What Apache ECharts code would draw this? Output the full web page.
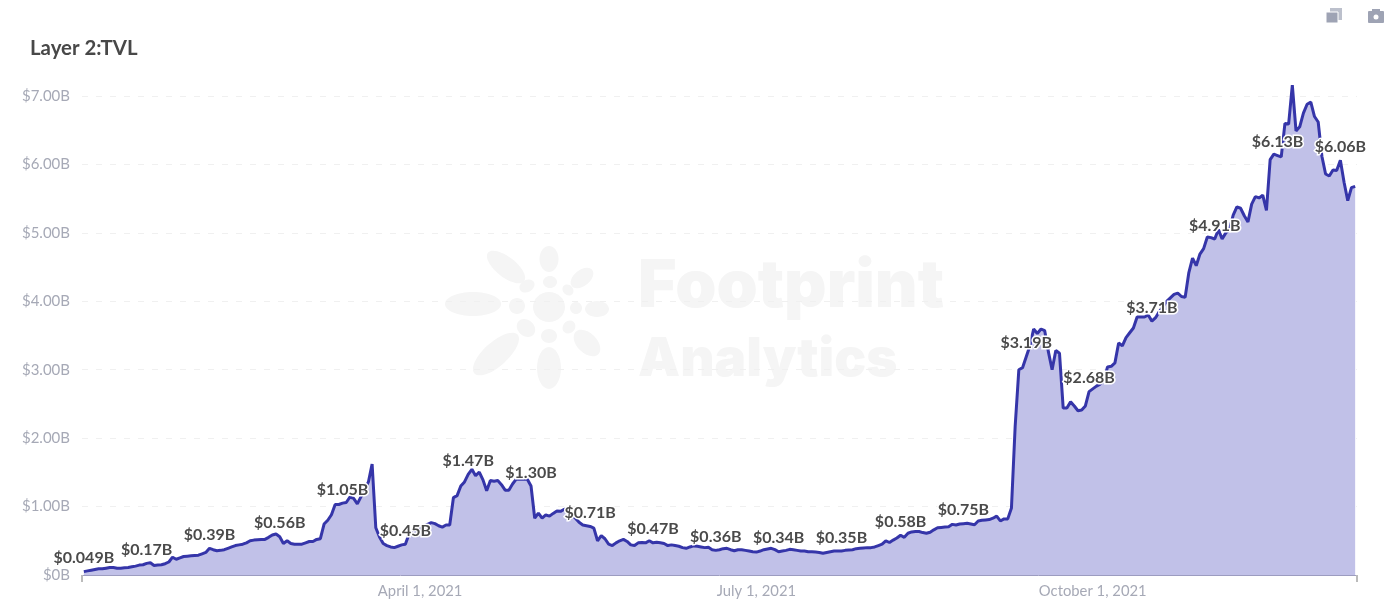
<!DOCTYPE html>
<html><head><meta charset="utf-8">
<script src="https://cdn.jsdelivr.net/npm/echarts@6/dist/echarts.min.js"></script>
<style>html,body{margin:0;padding:0;background:#fff}#c{width:1387px;height:604px}</style></head>
<body><div id="c"></div>
<script>
const tvl = [
.049,.06,.07,.08,.09,.09,.10,.11,.11,.10,
.10,.105,.11,.12,.13,.145,.15,.17,.18,.14,
.145,.15,.165,.19,.26,.23,.25,.27,.275,.28,
.285,.29,.31,.33,.39,.37,.355,.36,.37,.39,
.41,.43,.44,.45,.47,.50,.51,.515,.52,.52,
.55,.585,.60,.56,.46,.50,.46,.45,.45,.45,
.47,.49,.49,.52,.53,.745,.80,.88,1.03,1.03,
1.05,1.06,1.14,1.12,1.04,1.145,1.25,1.36,1.62,.69,
.555,.46,.43,.41,.40,.42,.44,.45,.60,.65,
.66,.68,.71,.74,.765,.75,.72,.70,.73,.73,
1.13,1.16,1.30,1.36,1.47,1.545,1.45,1.505,1.39,1.23,
1.38,1.37,1.38,1.32,1.24,1.24,1.33,1.40,1.40,1.40,
1.40,1.30,.83,.905,.83,.877,.86,.90,.935,.93,
.96,.96,.88,.83,.77,.73,.72,.71,.685,.50,
.575,.53,.45,.43,.47,.50,.52,.49,.44,.43,
.47,.475,.47,.50,.47,.48,.47,.46,.43,.44,
.43,.42,.40,.39,.41,.425,.42,.41,.40,.405,
.37,.36,.37,.385,.39,.37,.355,.37,.37,.36,
.35,.34,.335,.35,.37,.38,.39,.37,.34,.35,
.36,.375,.37,.36,.35,.35,.34,.34,.335,.33,
.317,.33,.34,.35,.35,.35,.36,.365,.37,.385,
.39,.395,.40,.40,.41,.43,.45,.50,.475,.51,
.54,.58,.55,.61,.63,.635,.635,.62,.61,.625,
.66,.69,.695,.70,.705,.74,.73,.745,.75,.755,
.745,.735,.79,.80,.805,.81,.83,.86,.79,.82,
.82,.98,2.17,3.0,3.03,3.19,3.35,3.595,3.53,3.595,
3.57,3.26,3.0,3.28,3.24,2.44,2.44,2.53,2.47,2.40,
2.41,2.47,2.68,2.72,2.76,2.79,2.85,3.04,3.05,3.10,
3.39,3.35,3.47,3.54,3.61,3.77,3.77,3.77,3.80,3.71,
3.76,3.85,3.92,4.00,4.05,4.10,4.12,4.07,4.06,4.42,
4.63,4.52,4.69,4.77,4.94,4.93,4.91,5.05,4.91,5.00,
5.05,5.26,5.38,5.36,5.25,5.16,5.42,5.53,5.51,5.55,
5.33,6.07,6.15,6.13,6.11,6.60,6.59,7.16,6.49,6.55,
6.75,6.88,6.91,6.70,6.62,6.12,5.86,5.83,5.92,5.91,
6.06,5.74,5.47,5.66,5.68
];
const labelIndexes = [0,17,34,53,70,87,104,121,137,154,171,188,205,221,238,255,272,289,306,323,340];
const tickIndexes = [91,182,273];
const tickLabels = ['April 1, 2021','July 1, 2021','October 1, 2021'];
const yTicks = ['$0B','$1.00B','$2.00B','$3.00B','$4.00B','$5.00B','$6.00B','$7.00B'];
const categories = tvl.map((_, i) => { const k = tickIndexes.indexOf(i); return k >= 0 ? tickLabels[k] : String(i); });
const fmt = v => v < 0.1 ? '$' + v.toFixed(3) + 'B' : '$' + v.toFixed(2) + 'B';
const points = tvl.map((v, i) => labelIndexes.includes(i)
  ? {value: v, symbol: 'circle', symbolSize: 1, itemStyle: {color: 'rgba(0,0,0,0)'},
     label: {show: true, position: 'top', distance: 5, opacity: 1, formatter: fmt(v)}}
  : v);

const wm = '#f5f5f5';
const blob = (cx, cy, rx, ry, rot) => ({type: 'ellipse', silent: true, z: -1,
  x: cx, y: cy, rotation: (rot || 0) * Math.PI / 180, shape: {cx: 0, cy: 0, rx, ry}, style: {fill: wm}});
const logo = [
  [549,307,16,15],[549,259,9.5,13],[506,267,23,10,-38],[473,304,28,12],[496,354,29,12,42],
  [549,368,12,21],[587,343,16,10,-45],[597,309,12,8],[582,278,13,8,38],
  [527,286,8,6,30],[550,282,7,6],[568,290,6,5,-45],[576,308,6,6],[569,327,7,6,50],
  [549,336,8,7],[526,328,10,8,-40],[517,306,8,8]
].map(a => blob(...a));

const chart = echarts.init(document.getElementById('c'), null, {renderer: 'canvas'});
chart.setOption({
  animation: false,
  backgroundColor: '#fff',
  textStyle: {fontFamily: 'Lato'},
  title: {text: 'Layer 2:TVL', left: 25, top: 33,
    textStyle: {fontFamily: 'Lato', fontSize: 20.4, fontWeight: 700, color: '#484848'}},
  grid: {left: 82, right: 30, top: 96, bottom: 29},
  xAxis: {type: 'category', data: categories, boundaryGap: true,
    axisLine: {lineStyle: {color: '#9c9cc0', width: 1}},
    axisTick: {show: true, length: 7, lineStyle: {color: '#bbb', width: 2},
      interval: i => i === 0},
    axisLabel: {color: '#a6a9b6', fontSize: 14.8, margin: 9,
      interval: i => tickIndexes.includes(i)},
    splitLine: {show: false}},
  yAxis: {type: 'value', min: 0, max: 7, interval: 1,
    axisLine: {show: false}, axisTick: {show: false},
    axisLabel: {color: '#a6a9b6', fontSize: 15, margin: 12, formatter: (v) => yTicks[Math.round(v)]},
    splitLine: {lineStyle: {color: '#f0f0f0', type: [6, 8], width: 1}}},
  series: [{type: 'line', data: points, symbol: 'none', showAllSymbol: true, clip: false, smooth: false,
    lineStyle: {color: '#3535a9', width: 3},
    areaStyle: {color: '#c1c1e8', opacity: 1},
    itemStyle: {color: '#3535a9'},
    label: {fontFamily: 'Lato', fontSize: 16, fontWeight: 700, color: '#4a4a4a',
      textBorderColor: '#fff', textBorderWidth: 3}}],
  graphic: [
    ...logo,
    {type: 'text', silent: true, z: -1, x: 638, y: 287,
      style: {text: 'Footprint', fill: wm, font: '900 66px Inter', verticalAlign: 'middle'}},
    {type: 'text', silent: true, z: -1, x: 638, y: 360,
      style: {text: 'Analytics', fill: wm, font: '900 53px Inter', verticalAlign: 'middle'}},
    {type: 'rect', silent: true, shape: {x: 1330, y: 8, width: 12, height: 12}, style: {fill: '#bcc0cc'}},
    {type: 'rect', silent: true, shape: {x: 1326, y: 12, width: 12, height: 11}, style: {fill: '#9ea3b4', stroke: '#fff', lineWidth: 1}},
    {type: 'rect', silent: true, shape: {x: 1368, y: 11, width: 16, height: 12, r: 1}, style: {fill: '#9ea3b4'}},
    {type: 'rect', silent: true, shape: {x: 1372, y: 9, width: 8, height: 3}, style: {fill: '#9ea3b4'}},
    {type: 'circle', silent: true, shape: {cx: 1376, cy: 17, r: 2.5}, style: {fill: '#fff'}}
  ]
});
</script></body></html>
